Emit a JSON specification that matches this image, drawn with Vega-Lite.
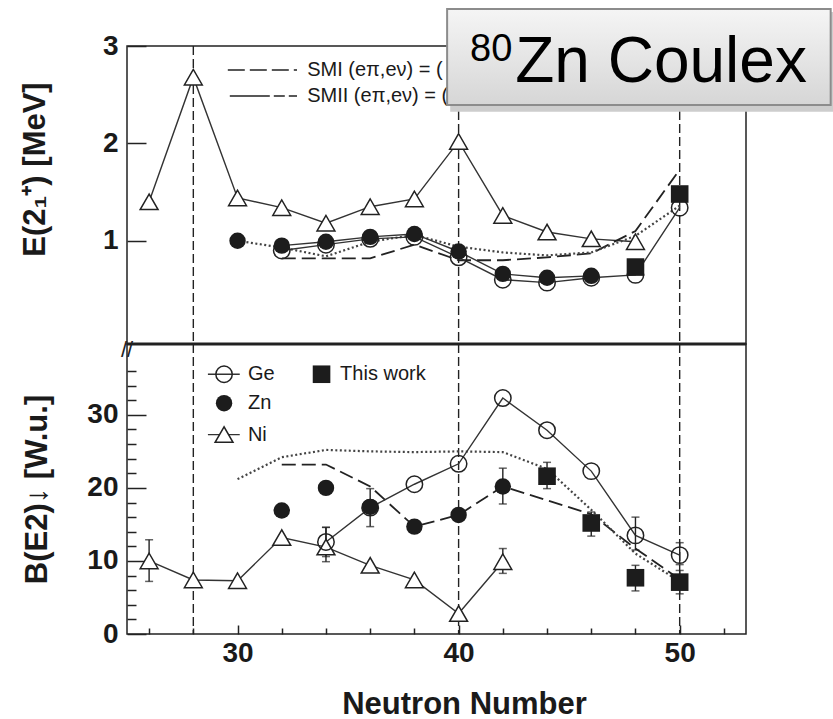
{
  "$schema": "https://vega.github.io/schema/vega-lite/v6.json",
  "background": "white",
  "padding": {"left": 18, "top": 7, "right": 0, "bottom": 0},
  "spacing": 0,
  "bounds": "flush",
  "config": {
    "view": {"stroke": "#222", "strokeWidth": 1.5},
    "font": "Liberation Sans",
    "axis": {"domain": false, "ticks": false, "grid": true, "gridColor": "#222", "gridWidth": 1.5, "gridOpacity": 1, "tickCount": 100, "labelFont": "Liberation Sans", "titleFont": "Liberation Sans", "labelColor": "#1a1a1a", "titleColor": "#1a1a1a", "labelOverlap": false, "labelBound": false}
  },
  "datasets": {
    "vlines": [{"N": 28}, {"N": 40}, {"N": 50}],
    "top": [
      {"N": 26, "series": "Ni", "E": 1.40}, {"N": 28, "series": "Ni", "E": 2.68}, {"N": 30, "series": "Ni", "E": 1.44},
      {"N": 32, "series": "Ni", "E": 1.34}, {"N": 34, "series": "Ni", "E": 1.18}, {"N": 36, "series": "Ni", "E": 1.35},
      {"N": 38, "series": "Ni", "E": 1.43}, {"N": 40, "series": "Ni", "E": 2.02}, {"N": 42, "series": "Ni", "E": 1.26},
      {"N": 44, "series": "Ni", "E": 1.09}, {"N": 46, "series": "Ni", "E": 1.02}, {"N": 48, "series": "Ni", "E": 0.99},
      {"N": 32, "series": "Ge", "E": 0.90}, {"N": 34, "series": "Ge", "E": 0.96}, {"N": 36, "series": "Ge", "E": 1.02},
      {"N": 38, "series": "Ge", "E": 1.04}, {"N": 40, "series": "Ge", "E": 0.83}, {"N": 42, "series": "Ge", "E": 0.60},
      {"N": 44, "series": "Ge", "E": 0.57}, {"N": 46, "series": "Ge", "E": 0.62}, {"N": 48, "series": "Ge", "E": 0.65},
      {"N": 50, "series": "Ge", "E": 1.34},
      {"N": 30, "series": "Zn", "E": 1.00}, {"N": 32, "series": "Zn", "E": 0.95}, {"N": 34, "series": "Zn", "E": 0.99},
      {"N": 36, "series": "Zn", "E": 1.04}, {"N": 38, "series": "Zn", "E": 1.07}, {"N": 40, "series": "Zn", "E": 0.89},
      {"N": 42, "series": "Zn", "E": 0.66}, {"N": 44, "series": "Zn", "E": 0.62}, {"N": 46, "series": "Zn", "E": 0.64},
      {"N": 48, "series": "This work", "E": 0.73}, {"N": 50, "series": "This work", "E": 1.48},
      {"N": 32, "series": "SMI", "E": 0.82}, {"N": 34, "series": "SMI", "E": 0.82}, {"N": 36, "series": "SMI", "E": 0.82},
      {"N": 38, "series": "SMI", "E": 0.96}, {"N": 40, "series": "SMI", "E": 0.80}, {"N": 42, "series": "SMI", "E": 0.80},
      {"N": 44, "series": "SMI", "E": 0.83}, {"N": 46, "series": "SMI", "E": 0.87}, {"N": 48, "series": "SMI", "E": 1.10},
      {"N": 50, "series": "SMI", "E": 1.73},
      {"N": 30, "series": "SMII", "E": 1.00}, {"N": 32, "series": "SMII", "E": 0.93}, {"N": 34, "series": "SMII", "E": 0.84},
      {"N": 36, "series": "SMII", "E": 0.99}, {"N": 38, "series": "SMII", "E": 1.06}, {"N": 40, "series": "SMII", "E": 0.94},
      {"N": 42, "series": "SMII", "E": 0.88}, {"N": 44, "series": "SMII", "E": 0.85}, {"N": 46, "series": "SMII", "E": 0.88},
      {"N": 48, "series": "SMII", "E": 1.05}, {"N": 50, "series": "SMII", "E": 1.36}
    ],
    "bottom": [
      {"N": 26, "series": "Ni", "B": 10.0, "lo": 7.2, "hi": 12.9}, {"N": 28, "series": "Ni", "B": 7.4}, {"N": 30, "series": "Ni", "B": 7.3},
      {"N": 32, "series": "Ni", "B": 13.2}, {"N": 34, "series": "Ni", "B": 11.9, "lo": 9.9, "hi": 14.6}, {"N": 36, "series": "Ni", "B": 9.4},
      {"N": 38, "series": "Ni", "B": 7.4}, {"N": 40, "series": "Ni", "B": 2.8}, {"N": 42, "series": "Ni", "B": 9.9, "lo": 8.3, "hi": 11.7},
      {"N": 34, "series": "Ge", "B": 12.6, "lo": 10.6, "hi": 14.6}, {"N": 36, "series": "Ge", "B": 17.3}, {"N": 38, "series": "Ge", "B": 20.5},
      {"N": 40, "series": "Ge", "B": 23.3}, {"N": 42, "series": "Ge", "B": 32.3}, {"N": 44, "series": "Ge", "B": 27.9},
      {"N": 46, "series": "Ge", "B": 22.3}, {"N": 48, "series": "Ge", "B": 13.5, "lo": 11.5, "hi": 16.0}, {"N": 50, "series": "Ge", "B": 10.8, "lo": 9.5, "hi": 12.5},
      {"N": 32, "series": "Zn", "B": 16.9}, {"N": 34, "series": "Zn", "B": 20.0}, {"N": 36, "series": "Zn", "B": 17.4, "lo": 14.7, "hi": 19.9},
      {"N": 38, "series": "Zn", "B": 14.7}, {"N": 40, "series": "Zn", "B": 16.3}, {"N": 42, "series": "Zn", "B": 20.2, "lo": 17.8, "hi": 22.7},
      {"N": 44, "series": "This work", "B": 21.6, "lo": 19.9, "hi": 23.5}, {"N": 46, "series": "This work", "B": 15.2, "lo": 13.4, "hi": 16.7},
      {"N": 48, "series": "This work", "B": 7.7, "lo": 5.9, "hi": 9.4}, {"N": 50, "series": "This work", "B": 7.1, "lo": 5.5, "hi": 8.7},
      {"N": 32, "series": "SMI", "B": 23.2}, {"N": 34, "series": "SMI", "B": 23.2}, {"N": 36, "series": "SMI", "B": 20.2},
      {"N": 38, "series": "SMI", "B": 14.7}, {"N": 40, "series": "SMI", "B": 16.3}, {"N": 42, "series": "SMI", "B": 20.2},
      {"N": 44, "series": "SMI", "B": 18.3}, {"N": 46, "series": "SMI", "B": 16.4}, {"N": 48, "series": "SMI", "B": 11.7},
      {"N": 50, "series": "SMI", "B": 7.5},
      {"N": 30, "series": "SMII", "B": 21.2}, {"N": 32, "series": "SMII", "B": 24.2}, {"N": 34, "series": "SMII", "B": 25.2},
      {"N": 36, "series": "SMII", "B": 25.0}, {"N": 38, "series": "SMII", "B": 24.9}, {"N": 40, "series": "SMII", "B": 25.0},
      {"N": 42, "series": "SMII", "B": 24.9}, {"N": 44, "series": "SMII", "B": 22.6}, {"N": 46, "series": "SMII", "B": 17.0},
      {"N": 48, "series": "SMII", "B": 11.0}, {"N": 50, "series": "SMII", "B": 7.2}
    ],
    "one": [{}]
  },
  "vconcat": [
    {
      "width": 619,
      "height": 298,
      "layer": [
        {
          "data": {"name": "vlines"},
          "mark": {"type": "rule", "strokeDash": [9, 4], "strokeWidth": 1.4, "color": "#222"},
          "encoding": {
            "x": {"field": "N", "type": "quantitative", "scale": {"domain": [25, 53], "nice": false, "zero": false}, "axis": null}
          }
        },
        {
          "data": {"name": "top"},
          "transform": [{"filter": "datum.series === 'Ni'"}],
          "mark": {"type": "line", "color": "#333", "strokeWidth": 1.4},
          "encoding": {
            "x": {"field": "N", "type": "quantitative", "scale": {"domain": [25, 53], "nice": false, "zero": false}, "axis": null},
            "y": {"field": "E", "type": "quantitative", "scale": {"domain": [-0.06, 3], "nice": false, "zero": false},
              "axis": {"orient": "left", "values": [1, 2, 3], "tickCount": 100, "format": "d", "labelOverlap": false, "labelBound": false,
                "grid": true, "gridDash": [19, 3000],
                "labelFontSize": 28, "labelFontWeight": "bold", "labelPadding": 9,
                "title": "E(2₁⁺) [MeV]", "titleFontSize": 31, "titleFontWeight": "bold", "titleAngle": -90, "titleX": -92, "titleY": 123, "titleAlign": "center", "titleBaseline": "middle"}}
          }
        },
        {
          "data": {"name": "top"},
          "transform": [{"filter": "datum.series === 'SMI'"}],
          "mark": {"type": "line", "color": "#222", "strokeWidth": 1.8, "strokeDash": [14, 6]},
          "encoding": {"x": {"field": "N", "type": "quantitative"}, "y": {"field": "E", "type": "quantitative"}}
        },
        {
          "data": {"name": "top"},
          "transform": [{"filter": "datum.series === 'SMII'"}],
          "mark": {"type": "line", "color": "#444", "strokeWidth": 2.2, "strokeDash": [2, 2.5]},
          "encoding": {"x": {"field": "N", "type": "quantitative"}, "y": {"field": "E", "type": "quantitative"}}
        },
        {
          "data": {"name": "top"},
          "transform": [{"filter": "datum.series === 'Ge'"}],
          "mark": {"type": "line", "color": "#333", "strokeWidth": 1.4},
          "encoding": {"x": {"field": "N", "type": "quantitative"}, "y": {"field": "E", "type": "quantitative"}}
        },
        {
          "data": {"name": "top"},
          "transform": [{"filter": "datum.series === 'Zn' && datum.N >= 32"}],
          "mark": {"type": "line", "color": "#333", "strokeWidth": 1.4},
          "encoding": {"x": {"field": "N", "type": "quantitative"}, "y": {"field": "E", "type": "quantitative"}}
        },
        {
          "data": {"name": "top"},
          "transform": [{"filter": "datum.series === 'Ni'"}],
          "mark": {"type": "point", "shape": "triangle-up", "filled": true, "fill": "white", "stroke": "#222", "strokeWidth": 1.5, "size": 320, "opacity": 1},
          "encoding": {"x": {"field": "N", "type": "quantitative"}, "y": {"field": "E", "type": "quantitative"}}
        },
        {
          "data": {"name": "top"},
          "transform": [{"filter": "datum.series === 'Ge'"}],
          "mark": {"type": "point", "shape": "circle", "filled": false, "stroke": "#222", "strokeWidth": 1.5, "size": 270, "opacity": 1},
          "encoding": {"x": {"field": "N", "type": "quantitative"}, "y": {"field": "E", "type": "quantitative"}}
        },
        {
          "data": {"name": "top"},
          "transform": [{"filter": "datum.series === 'Zn'"}],
          "mark": {"type": "point", "shape": "circle", "filled": true, "color": "#1c1c1c", "size": 270, "opacity": 1},
          "encoding": {"x": {"field": "N", "type": "quantitative"}, "y": {"field": "E", "type": "quantitative"}}
        },
        {
          "data": {"name": "top"},
          "transform": [{"filter": "datum.series === 'This work'"}],
          "mark": {"type": "point", "shape": "square", "filled": true, "color": "#1c1c1c", "size": 310, "opacity": 1},
          "encoding": {"x": {"field": "N", "type": "quantitative"}, "y": {"field": "E", "type": "quantitative"}}
        },
        {
          "data": {"name": "one"},
          "mark": {"type": "rule", "color": "#222", "strokeWidth": 3},
          "encoding": {"y": {"datum": -0.06, "type": "quantitative"}}
        },
        {
          "data": {"name": "one"},
          "mark": {"type": "rule", "color": "#222", "strokeWidth": 1.5, "strokeDash": [17, 5]},
          "encoding": {"x": {"datum": 29.56, "type": "quantitative"}, "x2": {"datum": 32.69}, "y": {"datum": 2.754, "type": "quantitative"}}
        },
        {
          "data": {"name": "one"},
          "mark": {"type": "rule", "color": "#222", "strokeWidth": 1.5, "strokeDash": [40, 4, 11, 4, 11, 4]},
          "encoding": {"x": {"datum": 29.65, "type": "quantitative"}, "x2": {"datum": 32.69}, "y": {"datum": 2.487, "type": "quantitative"}}
        },
        {
          "data": {"name": "one"},
          "mark": {"type": "text", "align": "left", "baseline": "middle", "fontSize": 20, "color": "#1a1a1a"},
          "encoding": {"x": {"datum": 33.15, "type": "quantitative"}, "y": {"datum": 2.754, "type": "quantitative"}, "text": {"value": "SMI (eπ,eν) = ("}}
        },
        {
          "data": {"name": "one"},
          "mark": {"type": "text", "align": "left", "baseline": "middle", "fontSize": 20, "color": "#1a1a1a"},
          "encoding": {"x": {"datum": 33.15, "type": "quantitative"}, "y": {"datum": 2.487, "type": "quantitative"}, "text": {"value": "SMII (eπ,eν) = ("}}
        },
        {
          "data": {"name": "one"},
          "mark": {"type": "rect", "color": "#cdcdcd"},
          "encoding": {"x": {"datum": 39.62, "type": "quantitative"}, "x2": {"datum": 57.0}, "y": {"datum": 3.35, "type": "quantitative"}, "y2": {"datum": 2.325}}
        },
        {
          "data": {"name": "one"},
          "mark": {"type": "rect", "stroke": "#8c8c8c", "strokeWidth": 2,
            "fill": {"gradient": "linear", "x1": 0, "y1": 0, "x2": 0, "y2": 1, "stops": [{"offset": 0, "color": "#f5f5f5"}, {"offset": 1, "color": "#d6d6d6"}]}},
          "encoding": {"x": {"datum": 39.48, "type": "quantitative"}, "x2": {"datum": 56.83}, "y": {"datum": 3.381, "type": "quantitative"}, "y2": {"datum": 2.395}}
        },
        {
          "data": {"name": "one"},
          "mark": {"type": "text", "align": "left", "baseline": "alphabetic", "fontSize": 38, "color": "#000"},
          "encoding": {"x": {"datum": 40.52, "type": "quantitative"}, "y": {"datum": 2.847, "type": "quantitative"}, "text": {"value": "80"}}
        },
        {
          "data": {"name": "one"},
          "mark": {"type": "text", "align": "left", "baseline": "alphabetic", "fontSize": 64, "color": "#000"},
          "encoding": {"x": {"datum": 42.56, "type": "quantitative"}, "y": {"datum": 2.631, "type": "quantitative"}, "text": {"value": "Zn Coulex"}}
        }
      ]
    },
    {
      "width": 619,
      "height": 290,
      "layer": [
        {
          "data": {"name": "vlines"},
          "mark": {"type": "rule", "strokeDash": [9, 4], "strokeWidth": 1.4, "color": "#222"},
          "encoding": {"x": {"field": "N", "type": "quantitative", "scale": {"domain": [25, 53], "nice": false, "zero": false},
            "axis": {"orient": "bottom", "values": [26, 28, 30, 32, 34, 36, 38, 40, 42, 44, 46, 48, 50, 52], "tickCount": 100, "format": "d",
              "labelExpr": "datum.value % 10 === 0 ? datum.label : ''", "labelOverlap": false,
              "grid": true,
              "gridDash": {"condition": {"test": "datum.value % 10 === 0", "value": [9, 281]}, "value": [6, 284]},
              "gridDashOffset": {"condition": {"test": "datum.value % 10 === 0", "value": 9}, "value": 6},
              "labelFontSize": 28, "labelFontWeight": "bold", "labelPadding": 5,
              "title": "Neutron Number", "titleFontSize": 31, "titleFontWeight": "bold", "titleX": 337, "titleY": 79, "titleAlign": "center", "titleBaseline": "alphabetic"}}}
        },
        {
          "data": {"name": "bottom"},
          "transform": [{"filter": "datum.series === 'Ni'"}],
          "mark": {"type": "line", "color": "#333", "strokeWidth": 1.4},
          "encoding": {
            "x": {"field": "N", "type": "quantitative"},
            "y": {"field": "B", "type": "quantitative", "scale": {"domain": [0, 39.7], "nice": false, "zero": false},
              "axis": {"orient": "left", "values": [0, 2, 4, 6, 8, 10, 12, 14, 16, 18, 20, 22, 24, 26, 28, 30, 32, 34, 36], "tickCount": 100, "format": "d",
                "labelExpr": "datum.value % 10 === 0 ? datum.label : ''", "labelOverlap": false,
                "grid": true, "gridDash": {"condition": {"test": "datum.value % 10 === 0", "value": [19, 3000]}, "value": [9, 3000]},
                "labelFontSize": 28, "labelFontWeight": "bold", "labelPadding": 9,
                "title": "B(E2)↓ [W.u.]", "titleFontSize": 31, "titleFontWeight": "bold", "titleAngle": -90, "titleX": -90, "titleY": 145, "titleAlign": "center", "titleBaseline": "middle"}}
          }
        },
        {
          "data": {"name": "bottom"},
          "transform": [{"filter": "datum.series === 'SMI'"}],
          "mark": {"type": "line", "color": "#222", "strokeWidth": 1.8, "strokeDash": [14, 6]},
          "encoding": {"x": {"field": "N", "type": "quantitative"}, "y": {"field": "B", "type": "quantitative"}}
        },
        {
          "data": {"name": "bottom"},
          "transform": [{"filter": "datum.series === 'SMII'"}],
          "mark": {"type": "line", "color": "#444", "strokeWidth": 2.2, "strokeDash": [2, 2.5]},
          "encoding": {"x": {"field": "N", "type": "quantitative"}, "y": {"field": "B", "type": "quantitative"}}
        },
        {
          "data": {"name": "bottom"},
          "transform": [{"filter": "datum.series === 'Ge'"}],
          "mark": {"type": "line", "color": "#333", "strokeWidth": 1.4},
          "encoding": {"x": {"field": "N", "type": "quantitative"}, "y": {"field": "B", "type": "quantitative"}}
        },
        {
          "data": {"name": "bottom"},
          "transform": [{"filter": "isValid(datum.lo)"}],
          "mark": {"type": "rule", "color": "#222", "strokeWidth": 1.4},
          "encoding": {"x": {"field": "N", "type": "quantitative"}, "y": {"field": "lo", "type": "quantitative"}, "y2": {"field": "hi"}}
        },
        {
          "data": {"name": "bottom"},
          "transform": [{"filter": "isValid(datum.lo)"}],
          "mark": {"type": "tick", "orient": "horizontal", "color": "#222", "size": 8, "thickness": 1.5},
          "encoding": {"x": {"field": "N", "type": "quantitative"}, "y": {"field": "lo", "type": "quantitative"}}
        },
        {
          "data": {"name": "bottom"},
          "transform": [{"filter": "isValid(datum.hi)"}],
          "mark": {"type": "tick", "orient": "horizontal", "color": "#222", "size": 8, "thickness": 1.5},
          "encoding": {"x": {"field": "N", "type": "quantitative"}, "y": {"field": "hi", "type": "quantitative"}}
        },
        {
          "data": {"name": "bottom"},
          "transform": [{"filter": "datum.series === 'Ni'"}],
          "mark": {"type": "point", "shape": "triangle-up", "filled": true, "fill": "white", "stroke": "#222", "strokeWidth": 1.5, "size": 320, "opacity": 1},
          "encoding": {"x": {"field": "N", "type": "quantitative"}, "y": {"field": "B", "type": "quantitative"}}
        },
        {
          "data": {"name": "bottom"},
          "transform": [{"filter": "datum.series === 'Ge'"}],
          "mark": {"type": "point", "shape": "circle", "filled": false, "stroke": "#222", "strokeWidth": 1.5, "size": 270, "opacity": 1},
          "encoding": {"x": {"field": "N", "type": "quantitative"}, "y": {"field": "B", "type": "quantitative"}}
        },
        {
          "data": {"name": "bottom"},
          "transform": [{"filter": "datum.series === 'Zn'"}],
          "mark": {"type": "point", "shape": "circle", "filled": true, "color": "#1c1c1c", "size": 270, "opacity": 1},
          "encoding": {"x": {"field": "N", "type": "quantitative"}, "y": {"field": "B", "type": "quantitative"}}
        },
        {
          "data": {"name": "bottom"},
          "transform": [{"filter": "datum.series === 'This work'"}],
          "mark": {"type": "point", "shape": "square", "filled": true, "color": "#1c1c1c", "size": 310, "opacity": 1},
          "encoding": {"x": {"field": "N", "type": "quantitative"}, "y": {"field": "B", "type": "quantitative"}}
        },
        {
          "data": {"name": "one"},
          "mark": {"type": "rule", "color": "#333", "strokeWidth": 1.4},
          "encoding": {"x": {"datum": 28.66, "type": "quantitative"}, "x2": {"datum": 30.1}, "y": {"datum": 35.56, "type": "quantitative"}}
        },
        {
          "data": {"name": "one"},
          "mark": {"type": "rule", "color": "#333", "strokeWidth": 1.4},
          "encoding": {"x": {"datum": 28.66, "type": "quantitative"}, "x2": {"datum": 30.1}, "y": {"datum": 27.3, "type": "quantitative"}}
        },
        {
          "data": {"name": "one"},
          "mark": {"type": "point", "shape": "circle", "filled": false, "stroke": "#222", "strokeWidth": 1.5, "size": 270, "opacity": 1},
          "encoding": {"x": {"datum": 29.39, "type": "quantitative"}, "y": {"datum": 35.56, "type": "quantitative"}}
        },
        {
          "data": {"name": "one"},
          "mark": {"type": "point", "shape": "circle", "filled": true, "color": "#1c1c1c", "size": 270, "opacity": 1},
          "encoding": {"x": {"datum": 29.39, "type": "quantitative"}, "y": {"datum": 31.6, "type": "quantitative"}}
        },
        {
          "data": {"name": "one"},
          "mark": {"type": "point", "shape": "triangle-up", "filled": true, "fill": "white", "stroke": "#222", "strokeWidth": 1.5, "size": 320, "opacity": 1},
          "encoding": {"x": {"datum": 29.39, "type": "quantitative"}, "y": {"datum": 27.3, "type": "quantitative"}}
        },
        {
          "data": {"name": "one"},
          "mark": {"type": "point", "shape": "square", "filled": true, "color": "#1c1c1c", "size": 310, "opacity": 1},
          "encoding": {"x": {"datum": 33.8, "type": "quantitative"}, "y": {"datum": 35.56, "type": "quantitative"}}
        },
        {
          "data": {"name": "one"},
          "mark": {"type": "text", "align": "left", "baseline": "middle", "fontSize": 20, "color": "#1a1a1a"},
          "encoding": {"x": {"datum": 30.47, "type": "quantitative"}, "y": {"datum": 35.56, "type": "quantitative"}, "text": {"value": "Ge"}}
        },
        {
          "data": {"name": "one"},
          "mark": {"type": "text", "align": "left", "baseline": "middle", "fontSize": 20, "color": "#1a1a1a"},
          "encoding": {"x": {"datum": 30.47, "type": "quantitative"}, "y": {"datum": 31.6, "type": "quantitative"}, "text": {"value": "Zn"}}
        },
        {
          "data": {"name": "one"},
          "mark": {"type": "text", "align": "left", "baseline": "middle", "fontSize": 20, "color": "#1a1a1a"},
          "encoding": {"x": {"datum": 30.47, "type": "quantitative"}, "y": {"datum": 27.3, "type": "quantitative"}, "text": {"value": "Ni"}}
        },
        {
          "data": {"name": "one"},
          "mark": {"type": "text", "align": "left", "baseline": "middle", "fontSize": 20, "color": "#1a1a1a"},
          "encoding": {"x": {"datum": 34.64, "type": "quantitative"}, "y": {"datum": 35.56, "type": "quantitative"}, "text": {"value": "This work"}}
        },
        {
          "data": {"name": "one"},
          "mark": {"type": "text", "align": "center", "baseline": "middle", "fontSize": 22, "color": "#222"},
          "encoding": {"x": {"datum": 25, "type": "quantitative"}, "y": {"datum": 38.9, "type": "quantitative"}, "text": {"value": "//"}}
        }
      ]
    }
  ]
}
